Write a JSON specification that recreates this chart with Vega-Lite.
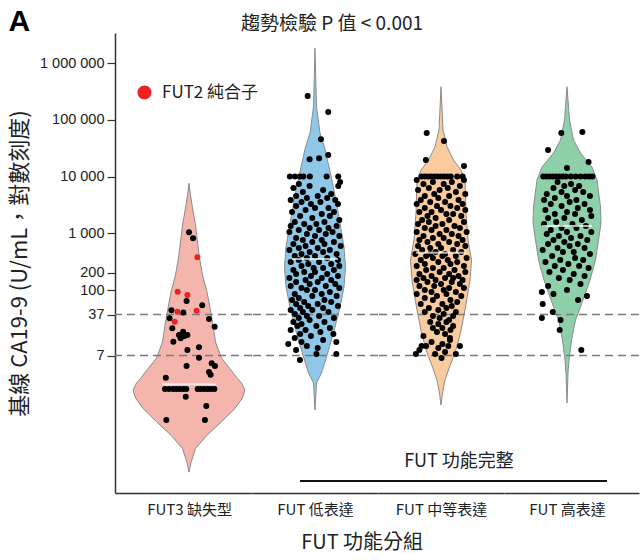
{
"$schema": "https://vega.github.io/schema/vega-lite/v6.json",
"padding": {"left": 8, "top": 7, "right": 0, "bottom": 8},
"title": {"text": "FUT 功能分組", "orient": "bottom", "anchor": "middle", "frame": "bounds", "dx": 38, "offset": 16, "fontSize": 20, "fontWeight": "normal", "color": "#222222"},
"bounds": "flush",
"spacing": 0,
"resolve": {"scale": {"color": "independent"}, "legend": {"color": "independent"}},
"config": {"font": "Noto Sans CJK TC", "view": {"stroke": null}, "axis": {"grid": false}},
"datasets": {
"cutoffs": [{"v": 37}, {"v": 7}],
"bracket": [{"label": "FUT 功能完整"}],
"medians": [
{"g":"FUT3 缺失型","median":2.18},{"g":"FUT 低表達","median":352},{"g":"FUT 中等表達","median":454},{"g":"FUT 高表達","median":1342}
],
"outline": [
{"g":"FUT3 缺失型","v":7590,"density":0},{"g":"FUT3 缺失型","v":4720,"density":0.03},{"g":"FUT3 缺失型","v":2790,"density":0.07},{"g":"FUT3 缺失型","v":1397,"density":0.13},{"g":"FUT3 缺失型","v":701,"density":0.17},{"g":"FUT3 缺失型","v":366,"density":0.21},{"g":"FUT3 缺失型","v":184,"density":0.27},{"g":"FUT3 缺失型","v":92,"density":0.36},{"g":"FUT3 缺失型","v":48,"density":0.42},{"g":"FUT3 缺失型","v":24,"density":0.48},{"g":"FUT3 缺失型","v":12.1,"density":0.53},{"g":"FUT3 缺失型","v":6.3,"density":0.65},{"g":"FUT3 缺失型","v":4.1,"density":0.82},{"g":"FUT3 缺失型","v":2.76,"density":0.97},{"g":"FUT3 缺失型","v":2.3,"density":1.05},{"g":"FUT3 缺失型","v":1.73,"density":1.12},{"g":"FUT3 缺失型","v":1.25,"density":1.07},{"g":"FUT3 缺失型","v":0.82,"density":0.92},{"g":"FUT3 缺失型","v":0.46,"density":0.63},{"g":"FUT3 缺失型","v":0.27,"density":0.35},{"g":"FUT3 缺失型","v":0.161,"density":0.13},{"g":"FUT3 缺失型","v":0.091,"density":0.04},{"g":"FUT3 缺失型","v":0.062,"density":0},
{"g":"FUT 低表達","v":1820000,"density":0},{"g":"FUT 低表達","v":170000,"density":0.03},{"g":"FUT 低表達","v":58400,"density":0.1},{"g":"FUT 低表達","v":33100,"density":0.19},{"g":"FUT 低表達","v":14700,"density":0.28},{"g":"FUT 低表達","v":5780,"density":0.38},{"g":"FUT 低表達","v":1515,"density":0.5},{"g":"FUT 低表達","v":573,"density":0.58},{"g":"FUT 低表達","v":254,"density":0.61},{"g":"FUT 低表達","v":113,"density":0.58},{"g":"FUT 低表達","v":50,"density":0.5},{"g":"FUT 低表達","v":17.5,"density":0.37},{"g":"FUT 低表達","v":6.6,"density":0.23},{"g":"FUT 低表達","v":3.45,"density":0.13},{"g":"FUT 低表達","v":2.3,"density":0.03},{"g":"FUT 低表達","v":0.77,"density":0},
{"g":"FUT 中等表達","v":382000,"density":0},{"g":"FUT 中等表達","v":65900,"density":0.04},{"g":"FUT 中等表達","v":33500,"density":0.12},{"g":"FUT 中等表達","v":19500,"density":0.25},{"g":"FUT 中等表達","v":13000,"density":0.4},{"g":"FUT 中等表達","v":8670,"density":0.48},{"g":"FUT 中等表達","v":2280,"density":0.5},{"g":"FUT 中等表達","v":760,"density":0.54},{"g":"FUT 中等表達","v":338,"density":0.61},{"g":"FUT 中等表達","v":150,"density":0.58},{"g":"FUT 中等表達","v":50,"density":0.49},{"g":"FUT 中等表達","v":17.5,"density":0.39},{"g":"FUT 中等表達","v":7.8,"density":0.28},{"g":"FUT 中等表達","v":4.4,"density":0.17},{"g":"FUT 中等表達","v":2.6,"density":0.08},{"g":"FUT 中等表達","v":1.53,"density":0.03},{"g":"FUT 中等表達","v":0.94,"density":0},
{"g":"FUT 高表達","v":382000,"density":0},{"g":"FUT 高表達","v":99000,"density":0.05},{"g":"FUT 高表達","v":44000,"density":0.13},{"g":"FUT 高表達","v":25900,"density":0.27},{"g":"FUT 高表達","v":14700,"density":0.5},{"g":"FUT 高表達","v":8670,"density":0.6},{"g":"FUT 高表達","v":2900,"density":0.67},{"g":"FUT 高表達","v":1517,"density":0.68},{"g":"FUT 高表達","v":760,"density":0.63},{"g":"FUT 高表達","v":338,"density":0.57},{"g":"FUT 高表達","v":150,"density":0.46},{"g":"FUT 高表達","v":66.7,"density":0.32},{"g":"FUT 高表達","v":29.6,"density":0.17},{"g":"FUT 高表達","v":13.1,"density":0.09},{"g":"FUT 高表達","v":5.84,"density":0.04},{"g":"FUT 高表達","v":3.45,"density":0.02},{"g":"FUT 高表達","v":1.02,"density":0}
],
"points": [
{"g":"FUT3 缺失型","v":1040,"jitter":0,"fut2":"非純合子"},{"g":"FUT3 缺失型","v":815,"jitter":0.15,"fut2":"非純合子"},{"g":"FUT3 缺失型","v":64,"jitter":-0.09,"fut2":"非純合子"},{"g":"FUT3 缺失型","v":54,"jitter":0.49,"fut2":"非純合子"},{"g":"FUT3 缺失型","v":44,"jitter":-0.65,"fut2":"非純合子"},{"g":"FUT3 缺失型","v":40,"jitter":-0.21,"fut2":"非純合子"},{"g":"FUT3 缺失型","v":31.7,"jitter":-0.72,"fut2":"非純合子"},{"g":"FUT3 缺失型","v":30.8,"jitter":0.74,"fut2":"非純合子"},{"g":"FUT3 缺失型","v":22.5,"jitter":0.95,"fut2":"非純合子"},{"g":"FUT3 缺失型","v":21.1,"jitter":-0.62,"fut2":"非純合子"},{"g":"FUT3 缺失型","v":18.4,"jitter":-0.22,"fut2":"非純合子"},{"g":"FUT3 缺失型","v":16.1,"jitter":-0.37,"fut2":"非純合子"},{"g":"FUT3 缺失型","v":15.5,"jitter":-0.17,"fut2":"非純合子"},{"g":"FUT3 缺失型","v":16.1,"jitter":-0.06,"fut2":"非純合子"},{"g":"FUT3 缺失型","v":14.1,"jitter":-0.31,"fut2":"非純合子"},{"g":"FUT3 缺失型","v":12.3,"jitter":-0.58,"fut2":"非純合子"},{"g":"FUT3 缺失型","v":8.8,"jitter":-0.06,"fut2":"非純合子"},{"g":"FUT3 缺失型","v":9.8,"jitter":0.37,"fut2":"非純合子"},{"g":"FUT3 缺失型","v":6.4,"jitter":0.37,"fut2":"非純合子"},{"g":"FUT3 缺失型","v":4.6,"jitter":-0.09,"fut2":"非純合子"},{"g":"FUT3 缺失型","v":5.1,"jitter":0.84,"fut2":"非純合子"},{"g":"FUT3 缺失型","v":4.6,"jitter":0.96,"fut2":"非純合子"},{"g":"FUT3 缺失型","v":3.6,"jitter":0.74,"fut2":"非純合子"},{"g":"FUT3 缺失型","v":3.2,"jitter":0.8,"fut2":"非純合子"},{"g":"FUT3 缺失型","v":2.85,"jitter":-0.86,"fut2":"非純合子"},
{"g":"FUT3 缺失型","v":1.8,"jitter":-0.89,"fut2":"非純合子"},{"g":"FUT3 缺失型","v":1.8,"jitter":-0.74,"fut2":"非純合子"},{"g":"FUT3 缺失型","v":1.8,"jitter":-0.59,"fut2":"非純合子"},{"g":"FUT3 缺失型","v":1.8,"jitter":-0.47,"fut2":"非純合子"},{"g":"FUT3 缺失型","v":1.8,"jitter":-0.35,"fut2":"非純合子"},{"g":"FUT3 缺失型","v":1.8,"jitter":-0.22,"fut2":"非純合子"},{"g":"FUT3 缺失型","v":1.8,"jitter":-0.1,"fut2":"非純合子"},{"g":"FUT3 缺失型","v":1.8,"jitter":0.32,"fut2":"非純合子"},{"g":"FUT3 缺失型","v":1.8,"jitter":0.44,"fut2":"非純合子"},{"g":"FUT3 缺失型","v":1.8,"jitter":0.57,"fut2":"非純合子"},{"g":"FUT3 缺失型","v":1.8,"jitter":0.69,"fut2":"非純合子"},{"g":"FUT3 缺失型","v":1.8,"jitter":0.81,"fut2":"非純合子"},{"g":"FUT3 缺失型","v":1.8,"jitter":0.94,"fut2":"非純合子"},
{"g":"FUT3 缺失型","v":1.32,"jitter":-0.12,"fut2":"非純合子"},{"g":"FUT3 缺失型","v":0.9,"jitter":0.64,"fut2":"非純合子"},{"g":"FUT3 缺失型","v":0.51,"jitter":0.59,"fut2":"非純合子"},{"g":"FUT3 缺失型","v":0.51,"jitter":-0.84,"fut2":"非純合子"},
{"g":"FUT3 缺失型","v":377,"jitter":0.31,"fut2":"FUT2 純合子"},{"g":"FUT3 缺失型","v":93,"jitter":-0.42,"fut2":"FUT2 純合子"},{"g":"FUT3 缺失型","v":82,"jitter":-0.06,"fut2":"FUT2 純合子"},{"g":"FUT3 缺失型","v":41.5,"jitter":-0.43,"fut2":"FUT2 純合子"},{"g":"FUT3 缺失型","v":43,"jitter":0.28,"fut2":"FUT2 純合子"},{"g":"FUT3 缺失型","v":27.6,"jitter":-0.53,"fut2":"FUT2 純合子"},
{"g":"FUT 低表達","v":262000,"jitter":-0.27},{"g":"FUT 低表達","v":137000,"jitter":0.49},{"g":"FUT 低表達","v":45200,"jitter":0.22},{"g":"FUT 低表達","v":23900,"jitter":0.49},{"g":"FUT 低表達","v":20100,"jitter":-0.2},{"g":"FUT 低表達","v":20900,"jitter":0.15},
{"g":"FUT 低表達","v":10000,"jitter":-0.93},{"g":"FUT 低表達","v":10000,"jitter":-0.74},{"g":"FUT 低表達","v":10000,"jitter":-0.56},{"g":"FUT 低表達","v":10000,"jitter":-0.43},{"g":"FUT 低表達","v":10000,"jitter":-0.19},{"g":"FUT 低表達","v":10000,"jitter":0.43},{"g":"FUT 低表達","v":10000,"jitter":0.86},{"g":"FUT 低表達","v":8000,"jitter":0.93},{"g":"FUT 低表達","v":6800,"jitter":0.86},
{"g":"FUT 低表達","v":7376,"jitter":-0.6},{"g":"FUT 低表達","v":6802,"jitter":-0.2},{"g":"FUT 低表達","v":6272,"jitter":-0.8},{"g":"FUT 低表達","v":5783,"jitter":0.3},{"g":"FUT 低表達","v":5333,"jitter":-0.45},{"g":"FUT 低表達","v":4916,"jitter":0.6},{"g":"FUT 低表達","v":4533,"jitter":-0.7},{"g":"FUT 低表達","v":4533,"jitter":0.1},{"g":"FUT 低表達","v":4180,"jitter":0.45},{"g":"FUT 低表達","v":4180,"jitter":-0.3},{"g":"FUT 低表達","v":3854,"jitter":0.75},{"g":"FUT 低表達","v":3854,"jitter":-0.9},
{"g":"FUT 低表達","v":3553,"jitter":-0.5},{"g":"FUT 低表達","v":3553,"jitter":0.2},{"g":"FUT 低表達","v":3277,"jitter":0.85},{"g":"FUT 低表達","v":3277,"jitter":-0.15},{"g":"FUT 低表達","v":3022,"jitter":-0.7},{"g":"FUT 低表達","v":2786,"jitter":0.5},{"g":"FUT 低表達","v":2786,"jitter":0},{"g":"FUT 低表達","v":2569,"jitter":-0.35},{"g":"FUT 低表達","v":2368,"jitter":0.7},{"g":"FUT 低表達","v":2368,"jitter":-0.85},{"g":"FUT 低表達","v":2184,"jitter":0.25},{"g":"FUT 低表達","v":2014,"jitter":-0.55},{"g":"FUT 低表達","v":2014,"jitter":0.55},{"g":"FUT 低表達","v":1857,"jitter":-0.1},{"g":"FUT 低表達","v":1712,"jitter":0.9},
{"g":"FUT 低表達","v":1578,"jitter":-0.75},{"g":"FUT 低表達","v":1578,"jitter":0.35},{"g":"FUT 低表達","v":1455,"jitter":0.05},{"g":"FUT 低表達","v":1455,"jitter":-0.4},{"g":"FUT 低表達","v":1342,"jitter":0.8},{"g":"FUT 低表達","v":1342,"jitter":-0.9},{"g":"FUT 低表達","v":1237,"jitter":0.5},{"g":"FUT 低表達","v":1237,"jitter":-0.2},{"g":"FUT 低表達","v":1141,"jitter":-0.6},{"g":"FUT 低表達","v":1141,"jitter":0.15},{"g":"FUT 低表達","v":1052,"jitter":0.65},{"g":"FUT 低表達","v":1052,"jitter":-0.95},{"g":"FUT 低表達","v":970,"jitter":-0.3},{"g":"FUT 低表達","v":970,"jitter":0.4},{"g":"FUT 低表達","v":894,"jitter":0},{"g":"FUT 低表達","v":894,"jitter":0.9},{"g":"FUT 低表達","v":825,"jitter":-0.7},{"g":"FUT 低表達","v":760,"jitter":0.25},
{"g":"FUT 低表達","v":760,"jitter":-0.45},{"g":"FUT 低表達","v":701,"jitter":0.7},{"g":"FUT 低表達","v":701,"jitter":-0.1},{"g":"FUT 低表達","v":647,"jitter":-0.8},{"g":"FUT 低表達","v":647,"jitter":0.35},{"g":"FUT 低表達","v":596,"jitter":0.95},{"g":"FUT 低表達","v":596,"jitter":-0.35},{"g":"FUT 低表達","v":550,"jitter":0.1},{"g":"FUT 低表達","v":550,"jitter":-0.6},{"g":"FUT 低表達","v":507,"jitter":0.55},{"g":"FUT 低表達","v":507,"jitter":-0.95},{"g":"FUT 低表達","v":467,"jitter":-0.2},{"g":"FUT 低表達","v":467,"jitter":0.3},{"g":"FUT 低表達","v":431,"jitter":0.8},{"g":"FUT 低表達","v":431,"jitter":-0.5},{"g":"FUT 低表達","v":397,"jitter":0},{"g":"FUT 低表達","v":397,"jitter":-0.75},{"g":"FUT 低表達","v":366,"jitter":0.45},{"g":"FUT 低表達","v":366,"jitter":-0.3},{"g":"FUT 低表達","v":338,"jitter":0.85},
{"g":"FUT 低表達","v":338,"jitter":-0.6},{"g":"FUT 低表達","v":311,"jitter":0.15},{"g":"FUT 低表達","v":311,"jitter":-0.9},{"g":"FUT 低表達","v":287,"jitter":0.6},{"g":"FUT 低表達","v":287,"jitter":-0.25},{"g":"FUT 低表達","v":265,"jitter":0.9},{"g":"FUT 低表達","v":265,"jitter":-0.5},{"g":"FUT 低表達","v":244,"jitter":0.3},{"g":"FUT 低表達","v":244,"jitter":-0.05},{"g":"FUT 低表達","v":225,"jitter":-0.8},{"g":"FUT 低表達","v":225,"jitter":0.7},{"g":"FUT 低表達","v":208,"jitter":0},{"g":"FUT 低表達","v":208,"jitter":-0.4},{"g":"FUT 低表達","v":191,"jitter":0.45},{"g":"FUT 低表達","v":191,"jitter":-0.7},{"g":"FUT 低表達","v":176,"jitter":0.85},{"g":"FUT 低表達","v":176,"jitter":-0.15},{"g":"FUT 低表達","v":163,"jitter":0.25},{"g":"FUT 低表達","v":163,"jitter":-0.95},{"g":"FUT 低表達","v":150,"jitter":0.6},
{"g":"FUT 低表達","v":150,"jitter":-0.35},{"g":"FUT 低表達","v":138,"jitter":0.1},{"g":"FUT 低表達","v":138,"jitter":-0.7},{"g":"FUT 低表達","v":128,"jitter":0.75},{"g":"FUT 低表達","v":128,"jitter":-0.2},{"g":"FUT 低表達","v":118,"jitter":0.4},{"g":"FUT 低表達","v":118,"jitter":-0.9},{"g":"FUT 低表達","v":108,"jitter":-0.5},{"g":"FUT 低表達","v":108,"jitter":0.9},{"g":"FUT 低表達","v":100,"jitter":0},{"g":"FUT 低表達","v":100,"jitter":-0.3},{"g":"FUT 低表達","v":92,"jitter":0.55},{"g":"FUT 低表達","v":85,"jitter":-0.75},{"g":"FUT 低表達","v":85,"jitter":0.25},{"g":"FUT 低表達","v":78,"jitter":-0.1},{"g":"FUT 低表達","v":78,"jitter":0.8},{"g":"FUT 低表達","v":72,"jitter":-0.6},{"g":"FUT 低表達","v":66.6,"jitter":0.35},
{"g":"FUT 低表達","v":66.6,"jitter":-0.85},{"g":"FUT 低表達","v":61.4,"jitter":-0.4},{"g":"FUT 低表達","v":61.4,"jitter":0.6},{"g":"FUT 低表達","v":56.6,"jitter":-0.7},{"g":"FUT 低表達","v":56.6,"jitter":0.1},{"g":"FUT 低表達","v":52.3,"jitter":-0.25},{"g":"FUT 低表達","v":52.3,"jitter":0.85},{"g":"FUT 低表達","v":48.2,"jitter":-0.55},{"g":"FUT 低表達","v":48.2,"jitter":0.3},{"g":"FUT 低表達","v":44.4,"jitter":-0.9},{"g":"FUT 低表達","v":44.4,"jitter":-0.1},{"g":"FUT 低表達","v":41,"jitter":0.5},{"g":"FUT 低表達","v":41,"jitter":-0.45},{"g":"FUT 低表達","v":37.8,"jitter":-0.75},{"g":"FUT 低表達","v":34.8,"jitter":0.15},{"g":"FUT 低表達","v":34.8,"jitter":-0.3},{"g":"FUT 低表達","v":32.1,"jitter":-0.6},{"g":"FUT 低表達","v":32.1,"jitter":0.7},
{"g":"FUT 低表達","v":29.6,"jitter":-0.2},{"g":"FUT 低表達","v":27.3,"jitter":-0.8},{"g":"FUT 低表達","v":27.3,"jitter":0.35},{"g":"FUT 低表達","v":25.2,"jitter":-0.5},{"g":"FUT 低表達","v":23.2,"jitter":0.05},{"g":"FUT 低表達","v":23.2,"jitter":-0.65},{"g":"FUT 低表達","v":21.4,"jitter":0.55},{"g":"FUT 低表達","v":19.7,"jitter":-0.35},{"g":"FUT 低表達","v":19.7,"jitter":-0.9},{"g":"FUT 低表達","v":18.2,"jitter":0.2},{"g":"FUT 低表達","v":16.8,"jitter":-0.55},{"g":"FUT 低表達","v":16.8,"jitter":0.68},{"g":"FUT 低表達","v":15.5,"jitter":-0.15},{"g":"FUT 低表達","v":14.3,"jitter":-0.75},
{"g":"FUT 低表達","v":13.1,"jitter":0.3},{"g":"FUT 低表達","v":12.1,"jitter":0.79},{"g":"FUT 低表達","v":12.1,"jitter":-0.5},{"g":"FUT 低表達","v":11.2,"jitter":-0.99},{"g":"FUT 低表達","v":10.3,"jitter":-0.3},{"g":"FUT 低表達","v":9.5,"jitter":0.1},{"g":"FUT 低表達","v":8.8,"jitter":-0.7},{"g":"FUT 低表達","v":7.45,"jitter":0.05},{"g":"FUT 低表達","v":7.45,"jitter":0.79},{"g":"FUT 低表達","v":5.84,"jitter":-0.56},
{"g":"FUT 中等表達","v":58430,"jitter":-0.53},{"g":"FUT 中等表達","v":42230,"jitter":0.11},{"g":"FUT 中等表達","v":19530,"jitter":-0.56},{"g":"FUT 中等表達","v":15310,"jitter":0.85},
{"g":"FUT 中等表達","v":10000,"jitter":-0.72},{"g":"FUT 中等表達","v":10000,"jitter":-0.6},{"g":"FUT 中等表達","v":10000,"jitter":-0.48},{"g":"FUT 中等表達","v":10000,"jitter":-0.36},{"g":"FUT 中等表達","v":10000,"jitter":-0.24},{"g":"FUT 中等表達","v":10000,"jitter":-0.12},{"g":"FUT 中等表達","v":10000,"jitter":0},{"g":"FUT 中等表達","v":10000,"jitter":0.12},{"g":"FUT 中等表達","v":10000,"jitter":0.24},{"g":"FUT 中等表達","v":10000,"jitter":0.36},{"g":"FUT 中等表達","v":10000,"jitter":0.6},{"g":"FUT 中等表達","v":10000,"jitter":0.8},
{"g":"FUT 中等表達","v":8677,"jitter":-0.9},{"g":"FUT 中等表達","v":8677,"jitter":0.85},{"g":"FUT 中等表達","v":8002,"jitter":-0.3},{"g":"FUT 中等表達","v":8002,"jitter":0.4},{"g":"FUT 中等表達","v":7376,"jitter":-0.65},{"g":"FUT 中等表達","v":7376,"jitter":0.1},{"g":"FUT 中等表達","v":6802,"jitter":0.7},{"g":"FUT 中等表達","v":6272,"jitter":-0.45},{"g":"FUT 中等表達","v":6272,"jitter":0.25},{"g":"FUT 中等表達","v":5783,"jitter":-0.85},{"g":"FUT 中等表達","v":5783,"jitter":-0.05},{"g":"FUT 中等表達","v":5333,"jitter":0.55},{"g":"FUT 中等表達","v":4916,"jitter":-0.25},{"g":"FUT 中等表達","v":4916,"jitter":0.9},{"g":"FUT 中等表達","v":4533,"jitter":-0.6},{"g":"FUT 中等表達","v":4533,"jitter":0.3},{"g":"FUT 中等表達","v":4180,"jitter":-0.1},{"g":"FUT 中等表達","v":3854,"jitter":0.65},
{"g":"FUT 中等表達","v":3854,"jitter":-0.75},{"g":"FUT 中等表達","v":3553,"jitter":0.15},{"g":"FUT 中等表達","v":3553,"jitter":-0.4},{"g":"FUT 中等表達","v":3277,"jitter":0.8},{"g":"FUT 中等表達","v":3277,"jitter":-0.9},{"g":"FUT 中等表達","v":3022,"jitter":0.35},{"g":"FUT 中等表達","v":3022,"jitter":-0.15},{"g":"FUT 中等表達","v":2786,"jitter":-0.6},{"g":"FUT 中等表達","v":2786,"jitter":0.6},{"g":"FUT 中等表達","v":2569,"jitter":0},{"g":"FUT 中等表達","v":2569,"jitter":0.9},{"g":"FUT 中等表達","v":2368,"jitter":-0.35},{"g":"FUT 中等表達","v":2368,"jitter":-0.8},{"g":"FUT 中等表達","v":2184,"jitter":0.45},{"g":"FUT 中等表達","v":2184,"jitter":0.2},{"g":"FUT 中等表達","v":2014,"jitter":-0.5},{"g":"FUT 中等表達","v":2014,"jitter":0.75},{"g":"FUT 中等表達","v":1857,"jitter":-0.2},{"g":"FUT 中等表達","v":1712,"jitter":0.3},{"g":"FUT 中等表達","v":1712,"jitter":-0.7},
{"g":"FUT 中等表達","v":1578,"jitter":0.85},{"g":"FUT 中等表達","v":1578,"jitter":-0.45},{"g":"FUT 中等表達","v":1455,"jitter":0.05},{"g":"FUT 中等表達","v":1455,"jitter":-0.85},{"g":"FUT 中等表達","v":1342,"jitter":0.5},{"g":"FUT 中等表達","v":1342,"jitter":-0.2},{"g":"FUT 中等表達","v":1237,"jitter":-0.6},{"g":"FUT 中等表達","v":1237,"jitter":0.7},{"g":"FUT 中等表達","v":1141,"jitter":0.2},{"g":"FUT 中等表達","v":1141,"jitter":-0.35},{"g":"FUT 中等表達","v":1052,"jitter":0.95},{"g":"FUT 中等表達","v":1052,"jitter":-0.9},{"g":"FUT 中等表達","v":970,"jitter":-0.05},{"g":"FUT 中等表達","v":970,"jitter":0.4},{"g":"FUT 中等表達","v":894,"jitter":-0.65},{"g":"FUT 中等表達","v":894,"jitter":0.65},{"g":"FUT 中等表達","v":825,"jitter":0.1},{"g":"FUT 中等表達","v":825,"jitter":-0.3},{"g":"FUT 中等表達","v":760,"jitter":0.8},{"g":"FUT 中等表達","v":760,"jitter":-0.8},
{"g":"FUT 中等表達","v":701,"jitter":-0.5},{"g":"FUT 中等表達","v":701,"jitter":0.3},{"g":"FUT 中等表達","v":647,"jitter":-0.1},{"g":"FUT 中等表達","v":647,"jitter":0.6},{"g":"FUT 中等表達","v":596,"jitter":-0.85},{"g":"FUT 中等表達","v":596,"jitter":0.9},{"g":"FUT 中等表達","v":550,"jitter":0},{"g":"FUT 中等表達","v":550,"jitter":-0.4},{"g":"FUT 中等表達","v":507,"jitter":0.45},{"g":"FUT 中等表達","v":507,"jitter":-0.7},{"g":"FUT 中等表達","v":467,"jitter":0.75},{"g":"FUT 中等表達","v":467,"jitter":-0.2},{"g":"FUT 中等表達","v":431,"jitter":0.15},{"g":"FUT 中等表達","v":431,"jitter":-0.95},{"g":"FUT 中等表達","v":397,"jitter":-0.55},{"g":"FUT 中等表達","v":397,"jitter":0.55},{"g":"FUT 中等表達","v":366,"jitter":0.95},{"g":"FUT 中等表達","v":366,"jitter":-0.3},{"g":"FUT 中等表達","v":338,"jitter":0.25},{"g":"FUT 中等表達","v":338,"jitter":-0.75},{"g":"FUT 中等表達","v":397,"jitter":0.05},{"g":"FUT 中等表達","v":431,"jitter":-0.4},
{"g":"FUT 中等表達","v":311,"jitter":0.6},{"g":"FUT 中等表達","v":311,"jitter":-0.1},{"g":"FUT 中等表達","v":287,"jitter":-0.6},{"g":"FUT 中等表達","v":287,"jitter":0.35},{"g":"FUT 中等表達","v":265,"jitter":0.85},{"g":"FUT 中等表達","v":265,"jitter":-0.9},{"g":"FUT 中等表達","v":244,"jitter":-0.3},{"g":"FUT 中等表達","v":244,"jitter":0.1},{"g":"FUT 中等表達","v":225,"jitter":0.5},{"g":"FUT 中等表達","v":225,"jitter":-0.55},{"g":"FUT 中等表達","v":208,"jitter":-0.05},{"g":"FUT 中等表達","v":208,"jitter":0.9},{"g":"FUT 中等表達","v":191,"jitter":-0.8},{"g":"FUT 中等表達","v":191,"jitter":0.3},{"g":"FUT 中等表達","v":176,"jitter":0.65},{"g":"FUT 中等表達","v":176,"jitter":-0.35},{"g":"FUT 中等表達","v":163,"jitter":-0.65},{"g":"FUT 中等表達","v":163,"jitter":0.15},{"g":"FUT 中等表達","v":150,"jitter":0.8},{"g":"FUT 中等表達","v":150,"jitter":-0.2},{"g":"FUT 中等表達","v":150,"jitter":-0.9},{"g":"FUT 中等表達","v":163,"jitter":0.45},
{"g":"FUT 中等表達","v":138,"jitter":0.4},{"g":"FUT 中等表達","v":138,"jitter":-0.5},{"g":"FUT 中等表達","v":128,"jitter":0},{"g":"FUT 中等表達","v":128,"jitter":0.7},{"g":"FUT 中等表達","v":118,"jitter":-0.8},{"g":"FUT 中等表達","v":118,"jitter":-0.25},{"g":"FUT 中等表達","v":108,"jitter":0.3},{"g":"FUT 中等表達","v":108,"jitter":0.85},{"g":"FUT 中等表達","v":100,"jitter":-0.6},{"g":"FUT 中等表達","v":100,"jitter":0.1},{"g":"FUT 中等表達","v":92,"jitter":-0.35},{"g":"FUT 中等表達","v":92,"jitter":0.55},{"g":"FUT 中等表達","v":85,"jitter":-0.9},{"g":"FUT 中等表達","v":85,"jitter":0.2},{"g":"FUT 中等表達","v":78,"jitter":0.75},{"g":"FUT 中等表達","v":78,"jitter":-0.15},{"g":"FUT 中等表達","v":72,"jitter":-0.6},{"g":"FUT 中等表達","v":66.6,"jitter":0.35},
{"g":"FUT 中等表達","v":66.6,"jitter":-0.3},{"g":"FUT 中等表達","v":61.4,"jitter":0.6},{"g":"FUT 中等表達","v":56.6,"jitter":-0.75},{"g":"FUT 中等表達","v":56.6,"jitter":0.05},{"g":"FUT 中等表達","v":52.3,"jitter":0.4},{"g":"FUT 中等表達","v":48.2,"jitter":-0.45},{"g":"FUT 中等表達","v":48.2,"jitter":0.2},{"g":"FUT 中等表達","v":44.4,"jitter":-0.1},{"g":"FUT 中等表達","v":41,"jitter":0.55},{"g":"FUT 中等表達","v":41,"jitter":-0.6},{"g":"FUT 中等表達","v":37.8,"jitter":0.1},{"g":"FUT 中等表達","v":34.8,"jitter":-0.3},{"g":"FUT 中等表達","v":34.8,"jitter":0.45},{"g":"FUT 中等表達","v":32.1,"jitter":-0.05},{"g":"FUT 中等表達","v":29.6,"jitter":0.3},
{"g":"FUT 中等表達","v":27.3,"jitter":-0.4},{"g":"FUT 中等表達","v":27.3,"jitter":0.2},{"g":"FUT 中等表達","v":25.2,"jitter":-0.1},{"g":"FUT 中等表達","v":23.2,"jitter":0.45},{"g":"FUT 中等表達","v":21.4,"jitter":-0.3},{"g":"FUT 中等表達","v":21.4,"jitter":0.05},{"g":"FUT 中等表達","v":19.7,"jitter":0.35},{"g":"FUT 中等表達","v":18.2,"jitter":-0.15},{"g":"FUT 中等表達","v":16.8,"jitter":0.15},{"g":"FUT 中等表達","v":15.5,"jitter":-0.65},{"g":"FUT 中等表達","v":14.3,"jitter":0.33},{"g":"FUT 中等表達","v":13.1,"jitter":0.33},
{"g":"FUT 中等表達","v":12.1,"jitter":-0.35},{"g":"FUT 中等表達","v":11.2,"jitter":0.05},{"g":"FUT 中等表達","v":10.3,"jitter":-0.72},{"g":"FUT 中等表達","v":10.3,"jitter":-0.55},{"g":"FUT 中等表達","v":10.3,"jitter":0.27},{"g":"FUT 中等表達","v":10.3,"jitter":0.7},{"g":"FUT 中等表達","v":9.5,"jitter":-0.1},{"g":"FUT 中等表達","v":8.8,"jitter":-0.8},{"g":"FUT 中等表達","v":8.1,"jitter":0.15},{"g":"FUT 中等表達","v":7.45,"jitter":-0.93},{"g":"FUT 中等表達","v":7.45,"jitter":-0.22},{"g":"FUT 中等表達","v":7.45,"jitter":0.55},{"g":"FUT 中等表達","v":6.34,"jitter":0.02},
{"g":"FUT 高表達","v":58430,"jitter":-0.21},{"g":"FUT 高表達","v":60800,"jitter":0.57},{"g":"FUT 高表達","v":29300,"jitter":-0.7},{"g":"FUT 高表達","v":18010,"jitter":0.8},
{"g":"FUT 高表達","v":10000,"jitter":-0.88},{"g":"FUT 高表達","v":10000,"jitter":-0.76},{"g":"FUT 高表達","v":10000,"jitter":-0.64},{"g":"FUT 高表達","v":10000,"jitter":-0.52},{"g":"FUT 高表達","v":10000,"jitter":-0.4},{"g":"FUT 高表達","v":10000,"jitter":-0.28},{"g":"FUT 高表達","v":10000,"jitter":-0.16},{"g":"FUT 高表達","v":10000,"jitter":-0.04},{"g":"FUT 高表達","v":10000,"jitter":0.14},{"g":"FUT 高表達","v":10000,"jitter":0.32},{"g":"FUT 高表達","v":10000,"jitter":0.5},{"g":"FUT 高表達","v":10000,"jitter":0.68},{"g":"FUT 高表達","v":10000,"jitter":0.82},{"g":"FUT 高表達","v":10000,"jitter":0.94},{"g":"FUT 高表達","v":14110,"jitter":0},
{"g":"FUT 高表達","v":8002,"jitter":-0.35},{"g":"FUT 高表達","v":7376,"jitter":0.15},{"g":"FUT 高表達","v":6802,"jitter":-0.1},{"g":"FUT 高表達","v":6802,"jitter":0.45},{"g":"FUT 高表達","v":6272,"jitter":-0.5},{"g":"FUT 高表達","v":5783,"jitter":0.3},{"g":"FUT 高表達","v":5333,"jitter":-0.2},{"g":"FUT 高表達","v":5333,"jitter":0.6},{"g":"FUT 高表達","v":4916,"jitter":-0.75},{"g":"FUT 高表達","v":4533,"jitter":0},{"g":"FUT 高表達","v":4533,"jitter":0.85},{"g":"FUT 高表達","v":4180,"jitter":-0.45},{"g":"FUT 高表達","v":3854,"jitter":0.35},{"g":"FUT 高表達","v":3854,"jitter":-0.85},
{"g":"FUT 高表達","v":3553,"jitter":0.1},{"g":"FUT 高表達","v":3277,"jitter":-0.6},{"g":"FUT 高表達","v":3277,"jitter":0.65},{"g":"FUT 高表達","v":3022,"jitter":-0.2},{"g":"FUT 高表達","v":2786,"jitter":0.4},{"g":"FUT 高表達","v":2569,"jitter":-0.8},{"g":"FUT 高表達","v":2569,"jitter":0.85},{"g":"FUT 高表達","v":2368,"jitter":0},{"g":"FUT 高表達","v":2184,"jitter":-0.45},{"g":"FUT 高表達","v":2184,"jitter":0.3},{"g":"FUT 高表達","v":2014,"jitter":0.9},{"g":"FUT 高表達","v":1857,"jitter":-0.7},{"g":"FUT 高表達","v":1857,"jitter":-0.1},{"g":"FUT 高表達","v":1712,"jitter":0.55},
{"g":"FUT 高表達","v":1578,"jitter":-0.4},{"g":"FUT 高表達","v":1455,"jitter":0.2},{"g":"FUT 高表達","v":1455,"jitter":-0.85},{"g":"FUT 高表達","v":1342,"jitter":0.7},{"g":"FUT 高表達","v":1237,"jitter":-0.2},{"g":"FUT 高表達","v":1237,"jitter":0.35},{"g":"FUT 高表達","v":1141,"jitter":-0.6},{"g":"FUT 高表達","v":1052,"jitter":0},{"g":"FUT 高表達","v":1052,"jitter":0.9},{"g":"FUT 高表達","v":970,"jitter":-0.75},{"g":"FUT 高表達","v":894,"jitter":0.5},{"g":"FUT 高表達","v":894,"jitter":-0.3},{"g":"FUT 高表達","v":825,"jitter":0.15},{"g":"FUT 高表達","v":760,"jitter":-0.5},
{"g":"FUT 高表達","v":760,"jitter":0.75},{"g":"FUT 高表達","v":701,"jitter":-0.1},{"g":"FUT 高表達","v":647,"jitter":0.4},{"g":"FUT 高表達","v":647,"jitter":-0.7},{"g":"FUT 高表達","v":596,"jitter":0.1},{"g":"FUT 高表達","v":550,"jitter":-0.35},{"g":"FUT 高表達","v":550,"jitter":0.65},{"g":"FUT 高表達","v":507,"jitter":-0.9},{"g":"FUT 高表達","v":467,"jitter":0.25},{"g":"FUT 高表達","v":467,"jitter":-0.15},{"g":"FUT 高表達","v":431,"jitter":0.85},{"g":"FUT 高表達","v":397,"jitter":-0.55},{"g":"FUT 高表達","v":366,"jitter":0.3},{"g":"FUT 高表達","v":338,"jitter":-0.25},
{"g":"FUT 高表達","v":338,"jitter":0.6},{"g":"FUT 高表達","v":311,"jitter":-0.8},{"g":"FUT 高表達","v":287,"jitter":0.05},{"g":"FUT 高表達","v":265,"jitter":0.45},{"g":"FUT 高表達","v":265,"jitter":-0.45},{"g":"FUT 高表達","v":244,"jitter":0.8},{"g":"FUT 高表達","v":225,"jitter":-0.15},{"g":"FUT 高表達","v":208,"jitter":-0.65},{"g":"FUT 高表達","v":191,"jitter":0.25},{"g":"FUT 高表達","v":176,"jitter":0.65},{"g":"FUT 高表達","v":163,"jitter":-0.3},{"g":"FUT 高表達","v":150,"jitter":0.1},
{"g":"FUT 高表達","v":92,"jitter":-0.93},{"g":"FUT 高表達","v":85,"jitter":-0.5},{"g":"FUT 高表達","v":100,"jitter":0},{"g":"FUT 高表達","v":66.6,"jitter":0.41},{"g":"FUT 高表達","v":78,"jitter":0.74},{"g":"FUT 高表達","v":128,"jitter":0.5},{"g":"FUT 高表達","v":118,"jitter":-0.7},
{"g":"FUT 高表達","v":56.6,"jitter":-0.9},{"g":"FUT 高表達","v":41,"jitter":-0.53},{"g":"FUT 高表達","v":32.1,"jitter":-0.93},{"g":"FUT 高表達","v":29.6,"jitter":-0.24},{"g":"FUT 高表達","v":19.7,"jitter":-0.27},{"g":"FUT 高表達","v":8.8,"jitter":0.53}
]
},
"hconcat": [
{
"width": 137, "height": 460,
"title": {"text": "A", "anchor": "start", "frame": "bounds", "font": "Liberation Sans", "fontSize": 30, "fontWeight": "bold", "color": "#000000", "offset": -4},
"layer": [
{"data": {"name": "outline"}, "transform": [{"filter": "datum.g === 'FUT3 缺失型'"}],
"mark": {"type": "area", "orient": "horizontal", "fill": "#F4B5AC", "stroke": "#8C8C8C", "strokeWidth": 1, "opacity": 1},
"encoding": {
"y": {"field": "v", "type": "quantitative", "scale": {"type": "log", "domain": [0.02648, 3378000], "nice": false},
"axis": {"values": [7, 37, 100, 200, 1000, 10000, 100000, 1000000], "labelExpr": "replace(format(datum.value, ','), regexp(',', 'g'), ' ')", "labelOverlap": false, "labelFlush": false, "title": "基線 CA19-9 (U/mL，對數刻度)", "titleFontSize": 22, "titleFontWeight": "normal", "titleColor": "#222222", "titlePadding": 8, "labelFont": "Liberation Sans", "labelFontSize": 14.5, "labelColor": "#222222", "labelPadding": 3, "tickSize": 8, "tickColor": "#333333", "tickWidth": 1.2, "domainColor": "#333333", "domainWidth": 1.5, "grid": false}},
"x": {"field": "density", "type": "quantitative", "stack": "center", "impute": null, "scale": {"domain": [-0.18, 1.19], "nice": false, "zero": false},
"axis": {"values": [0.56], "labelExpr": "'FUT3 缺失型'", "title": null, "ticks": false, "tickSize": 0, "labelPadding": 9, "labelFontSize": 15, "labelColor": "#222222", "domainColor": "#333333", "domainWidth": 1.5, "grid": false, "labelFlush": false}}
}},
{"data": {"name": "cutoffs"}, "mark": {"type": "rule", "color": "#7A7A7A", "strokeWidth": 1.5, "strokeDash": [8, 5]},
"encoding": {"y": {"field": "v", "type": "quantitative", "scale": {"type": "log", "domain": [0.02648, 3378000], "nice": false}}}},
{"data": {"name": "points"}, "transform": [{"filter": "datum.g === 'FUT3 缺失型'"}],
"mark": {"type": "circle", "size": 36, "opacity": 1},
"encoding": {"y": {"field": "v", "type": "quantitative", "scale": {"type": "log", "domain": [0.02648, 3378000], "nice": false}},
"x": {"field": "jitter", "type": "quantitative", "scale": {"domain": [-2.741, 2.333], "nice": false, "zero": false}, "axis": null},
"color": {"field": "fut2", "type": "nominal", "scale": {"domain": ["非純合子", "FUT2 純合子"], "range": ["#000000", "#EE2222"]},
"legend": {"values": ["FUT2 純合子"], "orient": "none", "legendX": 21, "legendY": 51, "title": null, "symbolSize": 200, "symbolType": "circle", "symbolStrokeWidth": 0, "labelFontSize": 17, "labelColor": "#222222", "labelOffset": 9, "padding": 0}}}},
{"data": {"name": "medians"}, "transform": [{"filter": "datum.g === 'FUT3 缺失型'"}],
"mark": {"type": "tick", "orient": "horizontal", "color": "#FFFFFF", "thickness": 2, "size": 54},
"encoding": {"y": {"field": "median", "type": "quantitative", "scale": {"type": "log", "domain": [0.02648, 3378000], "nice": false}},
"x": {"datum": 0, "type": "quantitative", "scale": {"domain": [-0.74, 0.63], "nice": false, "zero": false}, "axis": null}}}
],
"resolve": {"scale": {"x": "independent"}}
},
{
"width": 126, "height": 460,
"title": {"text": "趨勢檢驗 P 值 < 0.001", "anchor": "middle", "dx": 17, "fontSize": 19, "fontWeight": "normal", "color": "#222222", "offset": -1},
"layer": [
{"data": {"name": "outline"}, "transform": [{"filter": "datum.g === 'FUT 低表達'"}],
"mark": {"type": "area", "orient": "horizontal", "fill": "#8EC7E8", "stroke": "#8C8C8C", "strokeWidth": 1, "opacity": 1},
"encoding": {
"y": {"field": "v", "type": "quantitative", "scale": {"type": "log", "domain": [0.02648, 3378000], "nice": false}, "axis": null},
"x": {"field": "density", "type": "quantitative", "stack": "center", "impute": null, "scale": {"domain": [-0.325, 0.935], "nice": false, "zero": false},
"axis": {"values": [0.305], "labelExpr": "'FUT 低表達'", "title": null, "ticks": false, "tickSize": 0, "labelPadding": 9, "labelFontSize": 15, "labelColor": "#222222", "domainColor": "#333333", "domainWidth": 1.5, "grid": false, "labelFlush": false}}
}},
{"data": {"name": "cutoffs"}, "mark": {"type": "rule", "color": "#7A7A7A", "strokeWidth": 1.5, "strokeDash": [8, 5]},
"encoding": {"y": {"field": "v", "type": "quantitative", "scale": {"type": "log", "domain": [0.02648, 3378000], "nice": false}, "axis": null}}},
{"data": {"name": "points"}, "transform": [{"filter": "datum.g === 'FUT 低表達'"}],
"mark": {"type": "circle", "size": 36, "opacity": 1, "color": "#000000"},
"encoding": {"y": {"field": "v", "type": "quantitative", "scale": {"type": "log", "domain": [0.02648, 3378000], "nice": false}, "axis": null},
"x": {"field": "jitter", "type": "quantitative", "scale": {"domain": [-2.333, 2.333], "nice": false, "zero": false}, "axis": null}}},
{"data": {"name": "medians"}, "transform": [{"filter": "datum.g === 'FUT 低表達'"}],
"mark": {"type": "tick", "orient": "horizontal", "color": "#FFFFFF", "thickness": 2, "size": 46},
"encoding": {"y": {"field": "median", "type": "quantitative", "scale": {"type": "log", "domain": [0.02648, 3378000], "nice": false}, "axis": null},
"x": {"datum": 0, "type": "quantitative", "scale": {"domain": [-0.63, 0.63], "nice": false, "zero": false}, "axis": null}}},
{"data": {"name": "bracket"}, "mark": {"type": "rule", "color": "#111111", "strokeWidth": 2},
"encoding": {"x": {"datum": -0.15, "type": "quantitative", "scale": {"domain": [-0.63, 0.63], "nice": false, "zero": false}, "axis": null}, "x2": {"datum": 0.63},
"y": {"datum": 0.0431, "type": "quantitative", "scale": {"type": "log", "domain": [0.02648, 3378000], "nice": false}, "axis": null}}}
],
"resolve": {"scale": {"x": "independent"}}
},
{
"width": 126, "height": 460,
"layer": [
{"data": {"name": "outline"}, "transform": [{"filter": "datum.g === 'FUT 中等表達'"}],
"mark": {"type": "area", "orient": "horizontal", "fill": "#FACB9E", "stroke": "#8C8C8C", "strokeWidth": 1, "opacity": 1},
"encoding": {
"y": {"field": "v", "type": "quantitative", "scale": {"type": "log", "domain": [0.02648, 3378000], "nice": false}, "axis": null},
"x": {"field": "density", "type": "quantitative", "stack": "center", "impute": null, "scale": {"domain": [-0.325, 0.935], "nice": false, "zero": false},
"axis": {"values": [0.305], "labelExpr": "'FUT 中等表達'", "title": null, "ticks": false, "tickSize": 0, "labelPadding": 9, "labelFontSize": 15, "labelColor": "#222222", "domainColor": "#333333", "domainWidth": 1.5, "grid": false, "labelFlush": false}}
}},
{"data": {"name": "cutoffs"}, "mark": {"type": "rule", "color": "#7A7A7A", "strokeWidth": 1.5, "strokeDash": [8, 5]},
"encoding": {"y": {"field": "v", "type": "quantitative", "scale": {"type": "log", "domain": [0.02648, 3378000], "nice": false}, "axis": null}}},
{"data": {"name": "points"}, "transform": [{"filter": "datum.g === 'FUT 中等表達'"}],
"mark": {"type": "circle", "size": 36, "opacity": 1, "color": "#000000"},
"encoding": {"y": {"field": "v", "type": "quantitative", "scale": {"type": "log", "domain": [0.02648, 3378000], "nice": false}, "axis": null},
"x": {"field": "jitter", "type": "quantitative", "scale": {"domain": [-2.333, 2.333], "nice": false, "zero": false}, "axis": null}}},
{"data": {"name": "medians"}, "transform": [{"filter": "datum.g === 'FUT 中等表達'"}],
"mark": {"type": "tick", "orient": "horizontal", "color": "#FFFFFF", "thickness": 2, "size": 50},
"encoding": {"y": {"field": "median", "type": "quantitative", "scale": {"type": "log", "domain": [0.02648, 3378000], "nice": false}, "axis": null},
"x": {"datum": 0, "type": "quantitative", "scale": {"domain": [-0.63, 0.63], "nice": false, "zero": false}, "axis": null}}},
{"data": {"name": "bracket"}, "mark": {"type": "rule", "color": "#111111", "strokeWidth": 2},
"encoding": {"x": {"datum": -0.63, "type": "quantitative", "scale": {"domain": [-0.63, 0.63], "nice": false, "zero": false}, "axis": null}, "x2": {"datum": 0.63},
"y": {"datum": 0.0431, "type": "quantitative", "scale": {"type": "log", "domain": [0.02648, 3378000], "nice": false}, "axis": null}}},
{"data": {"name": "bracket"}, "mark": {"type": "text", "fontSize": 18, "color": "#222222", "align": "center", "baseline": "middle"},
"encoding": {"x": {"datum": 0.18, "type": "quantitative", "scale": {"domain": [-0.63, 0.63], "nice": false, "zero": false}, "axis": null},
"y": {"datum": 0.0931, "type": "quantitative", "scale": {"type": "log", "domain": [0.02648, 3378000], "nice": false}, "axis": null},
"text": {"field": "label"}}}
],
"resolve": {"scale": {"x": "independent"}}
},
{
"width": 135, "height": 460,
"layer": [
{"data": {"name": "outline"}, "transform": [{"filter": "datum.g === 'FUT 高表達'"}],
"mark": {"type": "area", "orient": "horizontal", "fill": "#8DD0A9", "stroke": "#8C8C8C", "strokeWidth": 1, "opacity": 1},
"encoding": {
"y": {"field": "v", "type": "quantitative", "scale": {"type": "log", "domain": [0.02648, 3378000], "nice": false}, "axis": null},
"x": {"field": "density", "type": "quantitative", "stack": "center", "impute": null, "scale": {"domain": [-0.29, 1.06], "nice": false, "zero": false},
"axis": {"values": [0.34], "labelExpr": "'FUT 高表達'", "title": null, "ticks": false, "tickSize": 0, "labelPadding": 9, "labelFontSize": 15, "labelColor": "#222222", "domainColor": "#333333", "domainWidth": 1.5, "grid": false, "labelFlush": false}}
}},
{"data": {"name": "cutoffs"}, "mark": {"type": "rule", "color": "#7A7A7A", "strokeWidth": 1.5, "strokeDash": [8, 5]},
"encoding": {"y": {"field": "v", "type": "quantitative", "scale": {"type": "log", "domain": [0.02648, 3378000], "nice": false}, "axis": null}}},
{"data": {"name": "points"}, "transform": [{"filter": "datum.g === 'FUT 高表達'"}],
"mark": {"type": "circle", "size": 36, "opacity": 1, "color": "#000000"},
"encoding": {"y": {"field": "v", "type": "quantitative", "scale": {"type": "log", "domain": [0.02648, 3378000], "nice": false}, "axis": null},
"x": {"field": "jitter", "type": "quantitative", "scale": {"domain": [-2.333, 2.667], "nice": false, "zero": false}, "axis": null}}},
{"data": {"name": "medians"}, "transform": [{"filter": "datum.g === 'FUT 高表達'"}],
"mark": {"type": "tick", "orient": "horizontal", "color": "#FFFFFF", "thickness": 2, "size": 50},
"encoding": {"y": {"field": "median", "type": "quantitative", "scale": {"type": "log", "domain": [0.02648, 3378000], "nice": false}, "axis": null},
"x": {"datum": 0, "type": "quantitative", "scale": {"domain": [-0.63, 0.72], "nice": false, "zero": false}, "axis": null}}},
{"data": {"name": "bracket"}, "mark": {"type": "rule", "color": "#111111", "strokeWidth": 2},
"encoding": {"x": {"datum": -0.63, "type": "quantitative", "scale": {"domain": [-0.63, 0.72], "nice": false, "zero": false}, "axis": null}, "x2": {"datum": 0.4},
"y": {"datum": 0.0431, "type": "quantitative", "scale": {"type": "log", "domain": [0.02648, 3378000], "nice": false}, "axis": null}}}
],
"resolve": {"scale": {"x": "independent"}}
}
]
}
